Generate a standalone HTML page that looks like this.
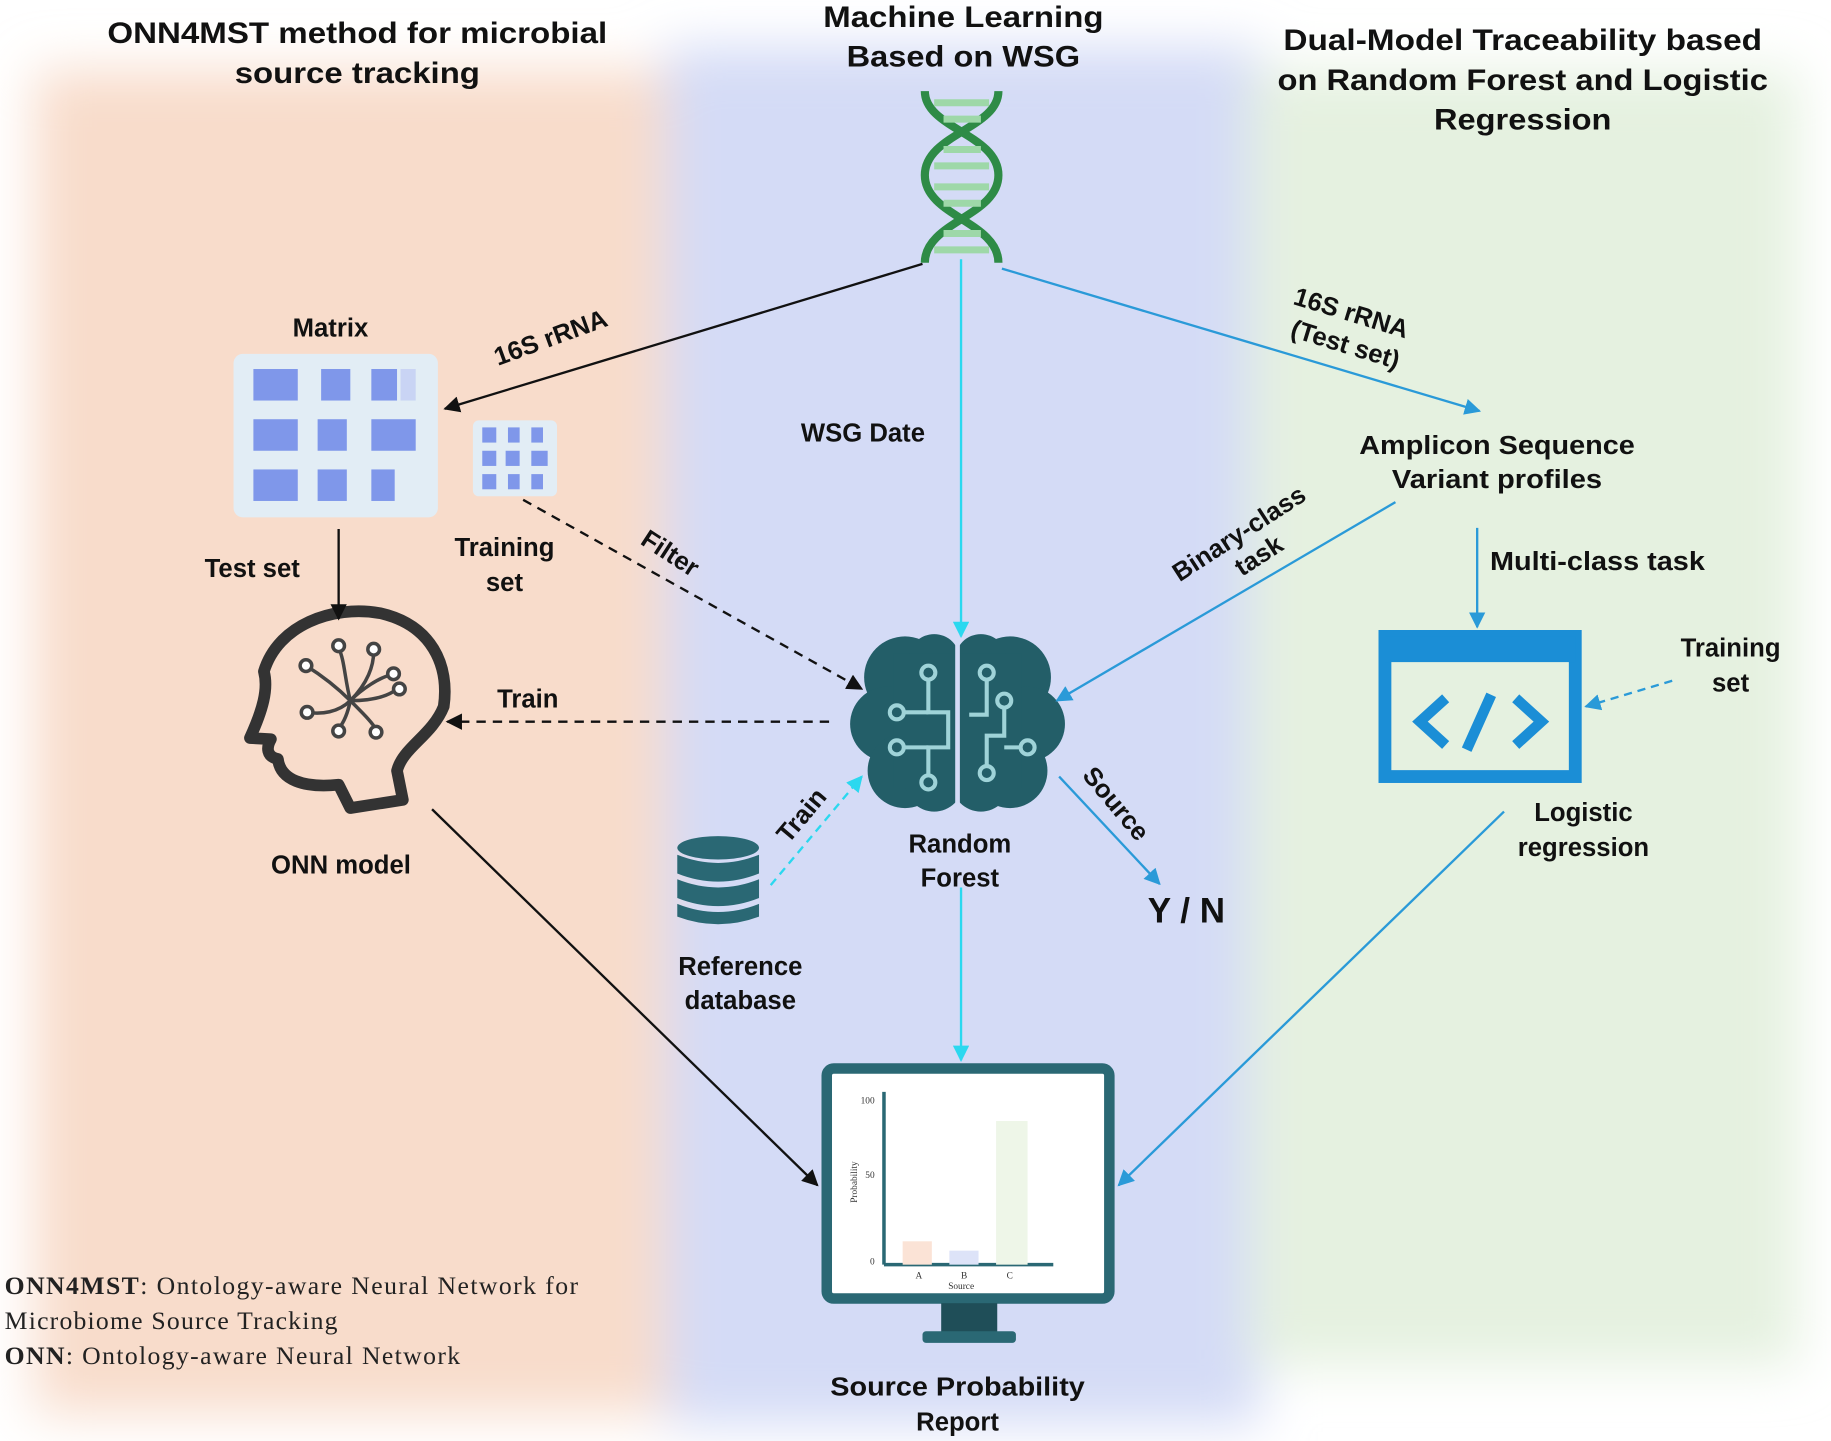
<!DOCTYPE html>
<html><head><meta charset="utf-8"><style>html,body{margin:0;padding:0;background:#fff}svg{display:block}</style></head>
<body>
<svg width="1831" height="1441" viewBox="0 0 1568 1234" xmlns="http://www.w3.org/2000/svg" font-family="Liberation Sans, sans-serif">
<defs>
<filter id="b" x="-20%" y="-20%" width="140%" height="140%"><feGaussianBlur stdDeviation="22"/></filter>
<marker id="ak" viewBox="0 0 10 10" refX="9" refY="5" markerWidth="7" markerHeight="7" orient="auto"><path d="M0,0L10,5L0,10z" fill="#111"/></marker>
<marker id="ac" viewBox="0 0 10 10" refX="9" refY="5" markerWidth="7" markerHeight="7" orient="auto"><path d="M0,0L10,5L0,10z" fill="#2bd8ef"/></marker>
<marker id="ab" viewBox="0 0 10 10" refX="9" refY="5" markerWidth="7" markerHeight="7" orient="auto"><path d="M0,0L10,5L0,10z" fill="#2a9ad8"/></marker>
</defs>
<rect width="1568" height="1234" fill="#fff"/>
<g filter="url(#b)">
<rect x="30" y="60" width="570" height="1150" fill="#f8dccb"/>
<rect x="570" y="40" width="510" height="1180" fill="#d4dbf6"/>
<rect x="1070" y="60" width="470" height="1110" fill="#e5f1e0"/>
</g>
<g font-weight="bold" font-size="25" fill="#111" text-anchor="middle" lengthAdjust="spacingAndGlyphs">
<text x="306" y="37" textLength="428" lengthAdjust="spacingAndGlyphs">ONN4MST method for microbial</text>
<text x="306" y="71" textLength="210" lengthAdjust="spacingAndGlyphs">source tracking</text>
<text x="825" y="23" textLength="240" lengthAdjust="spacingAndGlyphs">Machine Learning</text>
<text x="825" y="57" textLength="200" lengthAdjust="spacingAndGlyphs">Based on WSG</text>
<text x="1304" y="43" textLength="410" lengthAdjust="spacingAndGlyphs">Dual-Model Traceability based</text>
<text x="1304" y="77" textLength="420" lengthAdjust="spacingAndGlyphs">on Random Forest and Logistic</text>
<text x="1304" y="111" textLength="152" lengthAdjust="spacingAndGlyphs">Regression</text>
</g>
<g fill="none" stroke="#2e8b46" stroke-width="7">
<path d="M792,78 C792,110 855,115 855,150 C855,185 792,190 792,225"/>
<path d="M855,78 C855,110 792,115 792,150 C792,185 855,190 855,225"/>
</g>
<g stroke="#9ed8a8" stroke-width="6">
<line x1="800" y1="88" x2="847" y2="88"/><line x1="808" y1="102" x2="840" y2="102"/>
<line x1="808" y1="128" x2="840" y2="128"/><line x1="800" y1="142" x2="847" y2="142"/>
<line x1="800" y1="160" x2="847" y2="160"/><line x1="808" y1="174" x2="840" y2="174"/>
<line x1="808" y1="200" x2="840" y2="200"/><line x1="800" y1="214" x2="847" y2="214"/>
</g>
<rect x="200" y="303" width="175" height="140" rx="8" fill="#e2edf5"/>
<g fill="#7f97ea">
<rect x="217" y="316" width="38" height="27"/><rect x="275" y="316" width="25" height="27"/><rect x="318" y="316" width="22" height="27"/><rect x="343" y="316" width="13" height="27" fill="#c9d4f4"/>
<rect x="217" y="359" width="38" height="27"/><rect x="272" y="359" width="25" height="27"/><rect x="318" y="359" width="38" height="27"/>
<rect x="217" y="402" width="38" height="27"/><rect x="272" y="402" width="25" height="27"/><rect x="318" y="402" width="20" height="27"/>
</g>
<rect x="405" y="360" width="72" height="65" rx="5" fill="#e2edf5"/>
<g fill="#7f97ea">
<rect x="413" y="366" width="12" height="13"/><rect x="435" y="366" width="10" height="13"/><rect x="455" y="366" width="10" height="13"/>
<rect x="413" y="386" width="12" height="13"/><rect x="433" y="386" width="12" height="13"/><rect x="455" y="386" width="14" height="13"/>
<rect x="413" y="406" width="12" height="13"/><rect x="435" y="406" width="10" height="13"/><rect x="455" y="406" width="10" height="13"/>
</g>
<path d="M300,692 L290,672 C260,675 240,668 238,650 C228,648 228,640 232,633 L214,632 C225,608 230,590 226,575 C238,535 285,518 325,525 C370,535 385,570 380,605 C370,630 345,640 340,660 L345,685 Z" fill="none" stroke="#333" stroke-width="10" stroke-linejoin="round"/>
<g fill="none" stroke="#444" stroke-width="3">
<path d="M300,600 C285,585 270,575 262,570"/><path d="M300,600 C290,610 275,612 263,610"/>
<path d="M300,600 C295,580 295,565 290,555"/><path d="M300,600 C315,585 320,570 320,558"/>
<path d="M300,600 C315,600 330,598 340,590"/><path d="M300,600 C312,612 320,620 322,625"/>
<path d="M300,600 C298,610 295,618 290,624"/><path d="M300,600 C310,590 325,580 335,578"/>
</g>
<g fill="#fff" stroke="#444" stroke-width="3">
<circle cx="262" cy="570" r="5"/><circle cx="263" cy="610" r="5"/><circle cx="290" cy="553" r="5"/><circle cx="320" cy="556" r="5"/><circle cx="342" cy="590" r="5"/><circle cx="322" cy="627" r="5"/><circle cx="290" cy="626" r="5"/><circle cx="337" cy="577" r="5"/>
</g>
<g fill="#235e68">
<circle cx="775" cy="580" r="35"/><circle cx="760" cy="620" r="32"/><circle cx="775" cy="660" r="32"/><circle cx="800" cy="670" r="25"/>
<circle cx="865" cy="580" r="35"/><circle cx="880" cy="620" r="32"/><circle cx="865" cy="660" r="32"/><circle cx="840" cy="670" r="25"/>
<circle cx="800" cy="565" r="22"/><circle cx="840" cy="565" r="22"/><rect x="765" y="560" width="110" height="115"/>
</g>
<line x1="820" y1="550" x2="820" y2="695" stroke="#d4dbf6" stroke-width="4"/>
<g fill="none" stroke="#9fd3d8" stroke-width="3.5">
<path d="M795,578 L795,610 L812,610 L812,640 L795,640 L795,668"/><path d="M770,610 L795,610"/><path d="M770,640 L795,640"/>
<path d="M845,578 L845,612 L830,612"/><path d="M860,602 L860,630 L845,630 L845,660"/><path d="M860,640 L878,640"/>
</g>
<g fill="#235e68" stroke="#9fd3d8" stroke-width="3.5">
<circle cx="795" cy="576" r="6"/><circle cx="768" cy="610" r="6"/><circle cx="768" cy="640" r="6"/><circle cx="795" cy="670" r="6"/>
<circle cx="845" cy="576" r="6"/><circle cx="880" cy="640" r="6"/><circle cx="845" cy="662" r="6"/><circle cx="860" cy="600" r="6"/>
</g>
<g fill="#2a6874">
<ellipse cx="615" cy="726" rx="35" ry="10"/>
<path d="M580,732 Q615,746 650,732 L650,748 Q615,762 580,748Z"/>
<path d="M580,753 Q615,767 650,753 L650,769 Q615,783 580,769Z"/>
<path d="M580,774 Q615,788 650,774 L650,785 Q615,798 580,785Z"/>
</g>
<rect x="1186" y="545" width="163" height="120" fill="none" stroke="#1b8ed6" stroke-width="11"/>
<rect x="1186" y="545" width="163" height="22" fill="#1b8ed6"/>
<g fill="none" stroke="#1b8ed6" stroke-width="9">
<path d="M1238,598 L1216,618 L1238,638"/><path d="M1298,598 L1320,618 L1298,638"/><path d="M1277,595 L1256,642"/>
</g>
<rect x="708" y="915" width="242" height="197" rx="6" fill="#fff" stroke="#2a6874" stroke-width="9"/>
<rect x="806" y="1116" width="48" height="26" fill="#1f4e58"/>
<rect x="790" y="1140" width="80" height="10" rx="3" fill="#2a6874"/>
<line x1="757" y1="935" x2="757" y2="1083" stroke="#2a6874" stroke-width="3"/>
<line x1="757" y1="1083" x2="902" y2="1083" stroke="#2a6874" stroke-width="3"/>
<rect x="773" y="1063" width="25" height="20" fill="#fbe3d6"/>
<rect x="813" y="1071" width="25" height="12" fill="#dde3f8"/>
<rect x="853" y="960" width="27" height="123" fill="#eef6e8"/>
<g font-family="Liberation Serif, serif" font-size="8" fill="#333">
<text x="737" y="945">100</text><text x="741" y="1009">50</text><text x="745" y="1083">0</text>
<text x="784" y="1095">A</text><text x="823" y="1095">B</text><text x="862" y="1095">C</text>
<text x="812" y="1104">Source</text>
<text transform="translate(734,1030) rotate(-90)">Probability</text>
</g>
<g fill="none" stroke-width="2">
<line x1="790" y1="226" x2="381" y2="350" stroke="#111" marker-end="url(#ak)"/>
<line x1="823" y1="222" x2="823" y2="545" stroke="#2bd8ef" marker-end="url(#ac)"/>
<line x1="858" y1="230" x2="1267" y2="352" stroke="#2a9ad8" marker-end="url(#ab)"/>
<line x1="448" y1="428" x2="738" y2="590" stroke="#111" stroke-dasharray="8,6" marker-end="url(#ak)"/>
<line x1="710" y1="618" x2="383" y2="618" stroke="#111" stroke-dasharray="8,6" marker-end="url(#ak)"/>
<line x1="290" y1="453" x2="290" y2="530" stroke="#111" marker-end="url(#ak)"/>
<line x1="1195" y1="430" x2="905" y2="600" stroke="#2a9ad8" marker-end="url(#ab)"/>
<line x1="1265" y1="452" x2="1265" y2="537" stroke="#2a9ad8" marker-end="url(#ab)"/>
<line x1="1432" y1="583" x2="1358" y2="605" stroke="#2a9ad8" stroke-dasharray="7,5" marker-end="url(#ab)"/>
<line x1="907" y1="665" x2="993" y2="757" stroke="#2a9ad8" marker-end="url(#ab)"/>
<line x1="660" y1="758" x2="738" y2="665" stroke="#2bd8ef" stroke-dasharray="7,5" marker-end="url(#ac)"/>
<line x1="823" y1="760" x2="823" y2="908" stroke="#2bd8ef" marker-end="url(#ac)"/>
<line x1="370" y1="693" x2="700" y2="1015" stroke="#111" marker-end="url(#ak)"/>
<line x1="1288" y1="695" x2="958" y2="1015" stroke="#2a9ad8" marker-end="url(#ab)"/>
</g>
<g font-weight="bold" font-size="22" fill="#111" text-anchor="middle">
<text x="283" y="288">Matrix</text>
<text x="216" y="494">Test set</text>
<text x="432" y="476">Training</text><text x="432" y="506">set</text>
<text x="292" y="748">ONN model</text>
<text x="452" y="606">Train</text>
<text x="739" y="378">WSG Date</text>
<text x="1282" y="389" textLength="236" lengthAdjust="spacingAndGlyphs">Amplicon Sequence</text><text x="1282" y="418" textLength="180" lengthAdjust="spacingAndGlyphs">Variant profiles</text>
<text x="1368" y="488" textLength="184" lengthAdjust="spacingAndGlyphs">Multi-class task</text>
<text x="1482" y="562">Training</text><text x="1482" y="592">set</text>
<text x="1356" y="703">Logistic</text><text x="1356" y="733">regression</text>
<text x="822" y="730">Random</text><text x="822" y="759">Forest</text>
<text x="634" y="835">Reference</text><text x="634" y="864">database</text>
<text x="820" y="1195" textLength="218" lengthAdjust="spacingAndGlyphs">Source Probability</text><text x="820" y="1225">Report</text>
<text x="1016" y="790" font-size="30">Y / N</text>
<text transform="translate(474,296) rotate(-20)">16S rRNA</text>
<text transform="translate(1155,275) rotate(17)">16S rRNA</text>
<text transform="translate(1150,302) rotate(17)">(Test set)</text>
<text transform="translate(570,480) rotate(33)">Filter</text>
<text transform="translate(1065,463) rotate(-33)">Binary-class</text>
<text transform="translate(1082,482) rotate(-33)">task</text>
<text transform="translate(950,693) rotate(50)">Source</text>
<text transform="translate(692,703) rotate(-50)">Train</text>
</g>
<g font-family="Liberation Serif, serif" font-size="22" fill="#222">
<text x="4" y="1108" textLength="491" lengthAdjust="spacing"><tspan font-weight="bold">ONN4MST</tspan>: Ontology-aware Neural Network for</text>
<text x="4" y="1138" textLength="285" lengthAdjust="spacing">Microbiome Source Tracking</text>
<text x="4" y="1168" textLength="390" lengthAdjust="spacing"><tspan font-weight="bold">ONN</tspan>: Ontology-aware Neural Network</text>
</g>
</svg>
</body></html>
